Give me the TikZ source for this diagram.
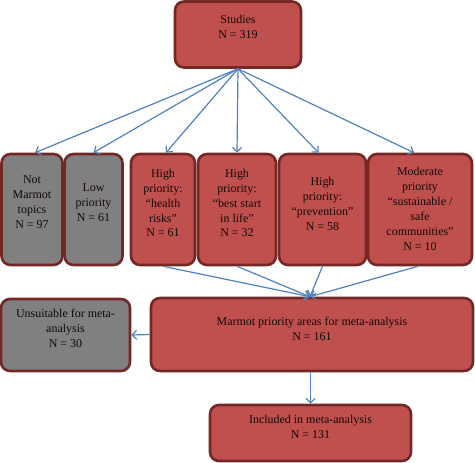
\documentclass[tikz,border=0pt]{standalone}
\usepackage{fontspec}
\setmainfont{Liberation Serif}
\usetikzlibrary{arrows.meta}
\definecolor{boxred}{HTML}{C0504D}
\definecolor{boxgray}{HTML}{808080}
\definecolor{bordc}{HTML}{732826}
\definecolor{arrc}{HTML}{4F81BD}
\definecolor{txtc}{HTML}{120808}
\tikzset{
  box/.style={draw=bordc, line width=2.6bp, rounded corners=9bp, inner sep=0pt},
  redbox/.style={box, fill=boxred},
  graybox/.style={box, fill=boxgray},
  lbl/.style={align=center, inner sep=0pt, text=txtc, font=\fontsize{12}{15}\selectfont},
  conn/.style={draw=arrc, line width=1.2bp, -{Straight Barb[length=4.5bp,width=9bp]}}
}
\begin{document}
\begin{tikzpicture}[x=1bp,y=-1bp]
\useasboundingbox (0,0) rectangle (475,463);
% boxes
\node[redbox, minimum width=126bp, minimum height=66bp] (st) at (238,34.5) {};
\node[graybox, minimum width=61bp, minimum height=111bp] (nm) at (32,209.5) {};
\node[graybox, minimum width=58bp, minimum height=111bp] (lp) at (93.5,209.5) {};
\node[redbox, minimum width=64bp, minimum height=111bp] (hr) at (163,209.5) {};
\node[redbox, minimum width=78bp, minimum height=111bp] (bs) at (237,209.5) {};
\node[redbox, minimum width=87bp, minimum height=111bp] (pv) at (322.5,209.5) {};
\node[redbox, minimum width=104bp, minimum height=111bp] (md) at (420,209.5) {};
\node[graybox, minimum width=129bp, minimum height=72bp] (un) at (65.5,335) {};
\node[redbox, minimum width=322bp, minimum height=73bp] (mp) at (312,334.5) {};
\node[redbox, minimum width=201bp, minimum height=56bp] (inc) at (310.5,433) {};
% labels
\node[lbl] (stT) at (238,27) {Studies\\N = 319};
\node[lbl] (nmT) at (32,202) {Not\\Marmot\\topics\\N = 97};
\node[lbl] (lpT) at (93.5,203) {Low\\priority\\N = 61};
\node[lbl] (hrT) at (163,203) {High\\priority:\\“health\\risks”\\N = 61};
\node[lbl] (bsT) at (237,203) {High\\priority:\\“best start\\in life”\\N = 32};
\node[lbl] (pvT) at (322.5,204) {High\\priority:\\“prevention”\\N = 58};
\node[lbl] (mdT) at (420,209) {Moderate\\priority\\“sustainable /\\safe\\communities”\\N = 10};
\node[lbl] (unT) at (65.5,328) {Unsuitable for meta-\\analysis\\N = 30};
\node[lbl] (mpT) at (312,329) {Marmot priority areas for meta-analysis\\N = 161};
\node[lbl] (incT) at (310.5,427) {Included in meta-analysis\\N = 131};
% connectors
\draw[conn] (st.south) -- ([xshift=3bp]nm.north);
\draw[conn] (st.south) -- (lp.north);
\draw[conn] (st.south) -- ([xshift=3bp]hr.north);
\draw[conn] (st.south) -- (bs.north);
\draw[conn] (st.south) -- ([xshift=-4bp]pv.north);
\draw[conn] (st.south) -- ([xshift=-6bp]md.north);
\draw[conn] (hr.south) -- ([xshift=-2bp]mp.north);
\draw[conn] (bs.south) -- ([xshift=-2bp]mp.north);
\draw[conn] (pv.south) -- ([xshift=-2bp]mp.north);
\draw[conn] ([xshift=-2bp]md.south) -- ([xshift=-2bp]mp.north);
\draw[conn] (mp.west) -- (un.east);
\draw[conn] (inc.north |- mp.south) -- (inc.north);
\end{tikzpicture}
\end{document}
